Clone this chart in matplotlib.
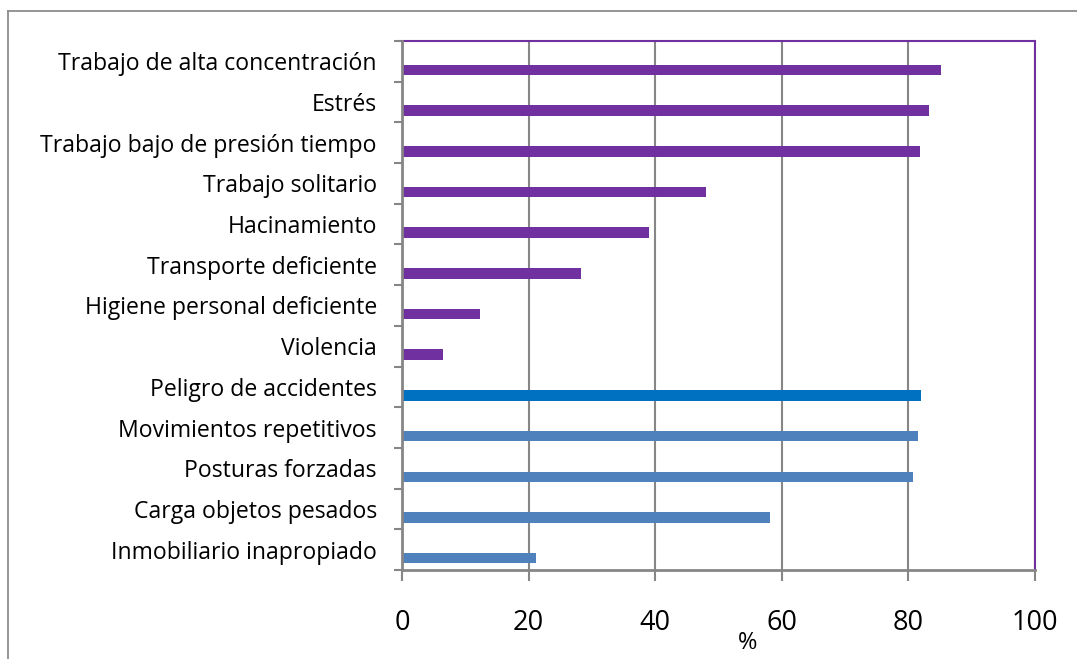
import matplotlib.pyplot as plt
from matplotlib.lines import Line2D

categories = [
    "Trabajo de alta concentración",
    "Estrés",
    "Trabajo bajo de presión tiempo",
    "Trabajo solitario",
    "Hacinamiento",
    "Transporte deficiente",
    "Higiene personal deficiente",
    "Violencia",
    "Peligro de accidentes",
    "Movimientos repetitivos",
    "Posturas forzadas",
    "Carga objetos pesados",
    "Inmobiliario inapropiado",
]
values = [85.1, 83.2, 81.9, 48.0, 39.0, 28.3, 12.3, 6.5, 82.0, 81.5, 80.7, 58.2, 21.2]
groups = ["psico"] * 8 + ["highlight"] + ["fisico"] * 4
x_ticks = [0, 20, 40, 60, 80, 100]
x_label = "%"

palette = {"psico": "#7030A0", "highlight": "#0070C0", "fisico": "#4F81BD"}
grid_grey = "#868686"
plt.rcParams["font.family"] = ["Open Sans", "DejaVu Sans"]

W, H = 1077, 659
fig = plt.figure(figsize=(W / 100, H / 100), dpi=100)
ax = fig.add_axes([402 / W, 89 / H, 633 / W, 529 / H])

n = len(categories)
pos = [i + 0.71 for i in range(n)]
ax.barh(pos, values, height=0.26, color=[palette[g] for g in groups], zorder=3)

ax.set_ylim(n, 0)
ax.set_xlim(0, 100)

# band boundaries carry the tick marks, band centres carry the labels
ax.set_yticks(range(n + 1))
ax.set_yticklabels([])
ax.set_yticks([i + 0.5 for i in range(n)], minor=True)
ax.set_yticklabels(categories, minor=True)
ax.tick_params(axis="y", which="major", length=6, width=1.5, color=grid_grey, direction="out")
ax.tick_params(axis="y", which="minor", length=0, pad=18, labelsize=16.6)

ax.set_xticks(x_ticks)
ax.set_xticklabels([str(t) for t in x_ticks])
ax.tick_params(axis="x", length=8, width=1.5, color=grid_grey, direction="out", pad=20, labelsize=19.5)

ax.grid(axis="x", color=grid_grey, linewidth=1.5, zorder=0)
ax.set_axisbelow(True)

for side in ("left", "bottom"):
    ax.spines[side].set_color(grid_grey)
    ax.spines[side].set_linewidth(2)
    ax.spines[side].set_zorder(4)
for side in ("top", "right"):
    ax.spines[side].set_color("#7030A0")
    ax.spines[side].set_linewidth(1.5)

fig.text(748 / W, 1 - 643 / H, x_label, ha="center", va="center", fontsize=17)

# outer chart frame
fx, fy = 8 / W, 1 - 11 / H
fig.add_artist(Line2D([fx, fx], [-0.05, fy], color="#8c8c8c", linewidth=1.3, transform=fig.transFigure))
fig.add_artist(Line2D([fx, 1.05], [fy, fy], color="#8c8c8c", linewidth=1.3, transform=fig.transFigure))

fig.savefig("out.png", dpi=100, facecolor="white")
